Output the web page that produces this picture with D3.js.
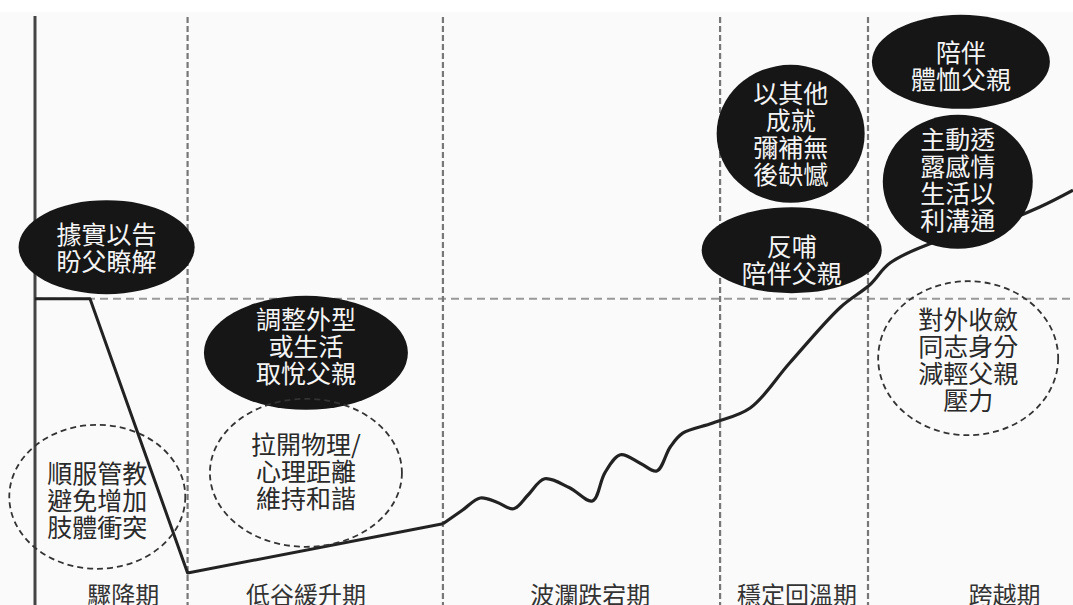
<!DOCTYPE html>
<html lang="zh-Hant">
<head>
<meta charset="UTF-8">
<title>父子關係歷程</title>
<script src="https://d3js.org/d3.v7.min.js"></script>
<style>
    body { margin: 0; background: #fff; }
    svg { display: block; }
    text { font-family: "Noto Sans CJK TC", "Noto Sans", sans-serif; }
</style>
</head>
<body>
<div id="chart"></div>
<script>
    const width = 1073;
    const height = 605;

    // 階段與分界（x 軸單位 0~100）
    const stages = ["驟降期", "低谷緩升期", "波瀾跌宕期", "穩定回溫期", "跨越期"];
    const stageBounds = [14.7, 39.3, 66.0, 80.25];
    const stageLabelX = [8.5, 26.1, 53.5, 73.4, 93.4];
    const baseline = 50.2;

    // 曲線：前段為折線，後段為波動曲線
    const dropX = [0, 5.3, 14.7, 39.3];
    const dropY = [50.2, 50.2, 4.5, 12.7];
    const waveX = [39.3, 41.2, 42.9, 44.5, 46.1, 47.5, 49.1, 51.5, 53.7, 54.9, 56.4, 58.3, 59.9, 61.2, 62.4, 65.3, 68.9, 72.7, 77.6, 80.4, 82.4, 87.2, 92.0, 96.8, 100];
    const waveY = [12.7, 15.0, 17.0, 16.3, 15.2, 17.5, 20.2, 18.7, 16.5, 21.2, 24.2, 22.8, 21.5, 25.5, 27.8, 29.5, 32.0, 39.5, 48.8, 52.5, 56.2, 60.0, 62.2, 65.5, 68.3];

    // 註解文字
    const notes = [
        ["據實以告", "盼父瞭解"],
        ["調整外型", "或生活", "取悅父親"],
        ["順服管教", "避免增加", "肢體衝突"],
        ["拉開物理/", "心理距離", "維持和諧"],
        ["以其他", "成就", "彌補無", "後缺憾"],
        ["反哺", "陪伴父親"],
        ["陪伴", "體恤父親"],
        ["主動透", "露感情", "生活以", "利溝通"],
        ["對外收斂", "同志身分", "減輕父親", "壓力"]
    ];
    const noteFilled = [true, true, false, false, true, true, true, true, false];
    // 位置：中心 (x, y 單位)、半徑 (px)、文字中心 y
    const noteLayout = [
        { cx: 6.9, cy: 58.8, rx: 88, ry: 47, ty: 58.9 },
        { cx: 26.1, cy: 41.2, rx: 102, ry: 57, ty: 42.5 },
        { cx: 6.0, cy: 17.2, rx: 88, ry: 72, ty: 16.8 },
        { cx: 26.1, cy: 21.2, rx: 96, ry: 74, ty: 21.7 },
        { cx: 72.8, cy: 77.7, rx: 74, ry: 69, ty: 77.9 },
        { cx: 72.9, cy: 58.3, rx: 90, ry: 43, ty: 57.0 },
        { cx: 89.2, cy: 89.7, rx: 89, ry: 47, ty: 89.2 },
        { cx: 88.9, cy: 69.7, rx: 75, ry: 67, ty: 70.2 },
        { cx: 89.9, cy: 40.3, rx: 90, ry: 77, ty: 40.2 }
    ];

    const x = d3.scaleLinear().domain([0, 100]).range([35, 1073]);
    const y = d3.scaleLinear().domain([0, 100]).range([600, 0]);

    const svg = d3.select("#chart")
        .append("svg")
        .attr("width", width)
        .attr("height", height);

    svg.append("rect")
        .attr("x", 0).attr("y", 12)
        .attr("width", width).attr("height", height - 12)
        .attr("fill", "#fafafa");

    // 水平虛線
    svg.append("line")
        .attr("x1", x(0)).attr("x2", x(100))
        .attr("y1", y(baseline)).attr("y2", y(baseline))
        .attr("stroke", "#999")
        .attr("stroke-width", 2)
        .attr("stroke-dasharray", "8,5");

    // 階段分隔虛線
    svg.selectAll("line.stage")
        .data(stageBounds)
        .enter()
        .append("line")
        .attr("class", "stage")
        .attr("x1", d => x(d)).attr("x2", d => x(d))
        .attr("y1", 17).attr("y2", height)
        .attr("stroke", "#777")
        .attr("stroke-width", 2.2)
        .attr("stroke-dasharray", "6,3");

    // 縱軸
    svg.append("line")
        .attr("x1", x(0)).attr("x2", x(0))
        .attr("y1", 16).attr("y2", height)
        .attr("stroke", "#444")
        .attr("stroke-width", 3);

    // 曲線
    const dropLine = d3.line()
        .x(i => x(dropX[i]))
        .y(i => y(dropY[i]));
    svg.append("path")
        .attr("d", dropLine(d3.range(dropX.length)))
        .attr("fill", "none")
        .attr("stroke", "#222")
        .attr("stroke-width", 3)
        .attr("stroke-linejoin", "round");

    const waveLine = d3.line()
        .x(i => x(waveX[i]))
        .y(i => y(waveY[i]))
        .curve(d3.curveCatmullRom.alpha(0.5));
    svg.append("path")
        .attr("d", waveLine(d3.range(waveX.length)))
        .attr("fill", "none")
        .attr("stroke", "#222")
        .attr("stroke-width", 3.2)
        .attr("stroke-linejoin", "round");

    // 註解橢圓
    const fontSize = 25;
    const lineGap = 27;
    notes.forEach((lines, i) => {
        const L = noteLayout[i];
        const filled = noteFilled[i];
        svg.append("ellipse")
            .attr("cx", x(L.cx)).attr("cy", y(L.cy))
            .attr("rx", L.rx).attr("ry", L.ry)
            .attr("fill", filled ? "#161616" : "none")
            .attr("stroke", filled ? "none" : "#333")
            .attr("stroke-width", 1.8)
            .attr("stroke-dasharray", filled ? null : "6,4");

        const top = y(L.ty) - (lines.length - 1) * lineGap / 2;
        svg.append("g")
            .selectAll("text")
            .data(lines)
            .enter()
            .append("text")
            .attr("x", x(L.cx))
            .attr("y", (_, j) => top + j * lineGap)
            .attr("text-anchor", "middle")
            .attr("dominant-baseline", "central")
            .attr("font-size", fontSize)
            .attr("fill", filled ? "#f4f4f4" : "#2a2a2a")
            .text(d => d);
    });

    // 階段標籤
    svg.selectAll("text.stage")
        .data(stages)
        .enter()
        .append("text")
        .attr("class", "stage")
        .attr("x", (_, i) => x(stageLabelX[i]))
        .attr("y", 593)
        .attr("text-anchor", "middle")
        .attr("dominant-baseline", "central")
        .attr("font-size", 24)
        .attr("fill", "#333")
        .text(d => d);
</script>
</body>
</html>
